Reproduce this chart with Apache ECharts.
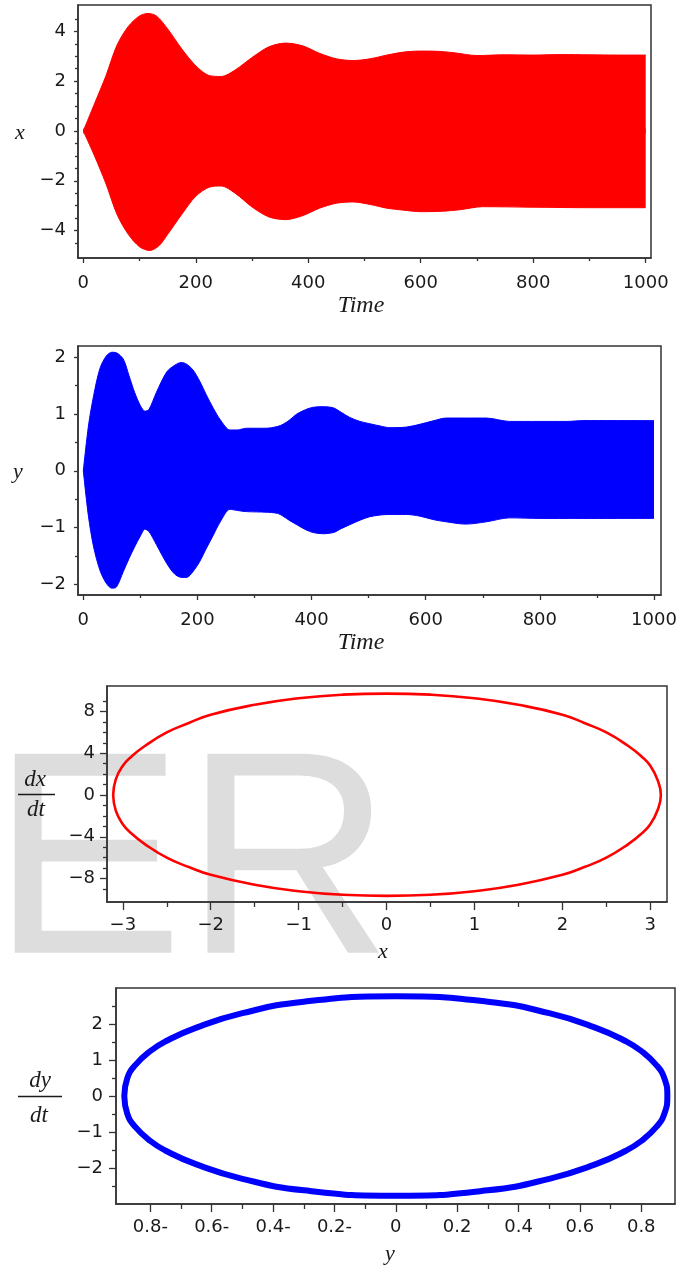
<!DOCTYPE html>
<html>
<head>
<meta charset="utf-8">
<script src="https://cdn.jsdelivr.net/npm/echarts@6/dist/echarts.min.js"></script>
<style>
html,body{margin:0;padding:0;background:#fff;}
#chart{width:688px;height:1268px;}
</style>
</head>
<body>
<div id="chart"></div>
<script>
// ---------- Panel 1: x(t) envelope ----------
var xTime  = [0, 20, 40, 60, 80, 100, 115, 130, 150, 175, 200, 225, 245, 270, 300, 330, 360, 390, 420, 450, 480, 510, 540, 570, 600, 630, 660, 700, 750, 800, 850, 900, 950, 1000];
var xUpper = [0, 1.1, 2.2, 3.45, 4.2, 4.62, 4.72, 4.62, 4.1, 3.3, 2.62, 2.22, 2.19, 2.45, 2.95, 3.38, 3.53, 3.42, 3.12, 2.9, 2.83, 2.9, 3.05, 3.17, 3.21, 3.2, 3.14, 3.03, 3.06, 3.05, 3.07, 3.06, 3.05, 3.05];
var xLowTime = [0, 20, 40, 60, 80, 100, 118, 135, 150, 175, 200, 225, 245, 270, 300, 330, 360, 390, 420, 450, 480, 510, 540, 570, 600, 640, 670, 710, 800, 900, 1000];
var xLower = [0, -1.0, -2.1, -3.35, -4.15, -4.65, -4.8, -4.6, -4.15, -3.35, -2.62, -2.25, -2.21, -2.5, -3.05, -3.45, -3.56, -3.4, -3.1, -2.9, -2.85, -2.95, -3.1, -3.18, -3.24, -3.22, -3.16, -3.04, -3.06, -3.08, -3.08];

// ---------- Panel 2: y(t) envelope ----------
var yTime  = [0, 9, 18, 29, 40, 50, 58, 70, 80, 90, 100, 108, 115, 128, 146, 160, 172, 181, 192, 204, 215, 228, 240, 257, 270, 286, 320, 340, 350, 362, 374, 390, 403, 420, 438, 452, 467, 485, 502, 520, 537, 566, 590, 613, 636, 670, 706, 747, 800, 846, 876, 930, 1000];
var yUpper = [0, 0.79, 1.32, 1.8, 2.02, 2.09, 2.08, 1.97, 1.68, 1.38, 1.15, 1.05, 1.08, 1.38, 1.74, 1.86, 1.91, 1.88, 1.78, 1.58, 1.35, 1.1, 0.9, 0.72, 0.72, 0.75, 0.75, 0.78, 0.82, 0.9, 1.0, 1.08, 1.12, 1.13, 1.11, 1.03, 0.94, 0.87, 0.83, 0.79, 0.76, 0.77, 0.82, 0.88, 0.93, 0.93, 0.93, 0.87, 0.87, 0.87, 0.885, 0.885, 0.885];
var yLower = [0, -0.8, -1.34, -1.75, -1.98, -2.07, -2.05, -1.78, -1.55, -1.34, -1.15, -1.03, -1.07, -1.3, -1.63, -1.82, -1.88, -1.88, -1.78, -1.6, -1.38, -1.13, -0.9, -0.68, -0.7, -0.72, -0.73, -0.75, -0.8, -0.88, -0.95, -1.04, -1.09, -1.11, -1.09, -1.02, -0.95, -0.87, -0.81, -0.78, -0.77, -0.77, -0.8, -0.86, -0.9, -0.94, -0.9, -0.83, -0.84, -0.84, -0.84, -0.84, -0.84];

// ---------- Panel 3: phase portrait (x, dx/dt) ----------
var phaseX  = [-3.11, -3.08, -3.0, -2.9, -2.75, -2.5, -2.25, -2.0, -1.5, -1.0, -0.5, 0, 0.5, 1.0, 1.5, 2.0, 2.25, 2.5, 2.75, 2.9, 3.0, 3.08, 3.12,
               3.08, 3.0, 2.9, 2.75, 2.5, 2.25, 2.0, 1.5, 1.0, 0.5, 0, -0.5, -1.0, -1.5, -2.0, -2.25, -2.5, -2.75, -2.9, -3.0, -3.08, -3.11];
var phaseDX = [0, 1.5, 2.8, 3.7, 4.7, 6.0, 6.9, 7.7, 8.65, 9.28, 9.62, 9.72, 9.62, 9.28, 8.65, 7.7, 6.9, 6.0, 4.7, 3.7, 2.8, 1.5, 0,
               -1.5, -2.8, -3.7, -4.7, -6.0, -6.9, -7.65, -8.6, -9.22, -9.56, -9.66, -9.56, -9.22, -8.6, -7.65, -6.9, -6.0, -4.7, -3.7, -2.8, -1.5, 0];

// ---------- Panel 4: phase portrait (y, dy/dt) ----------
var phaseY  = [-0.885, -0.875, -0.85, -0.8, -0.75, -0.65, -0.5, -0.3, 0, 0.3, 0.5, 0.65, 0.75, 0.8, 0.85, 0.875, 0.885,
               0.875, 0.85, 0.8, 0.75, 0.65, 0.5, 0.3, 0, -0.3, -0.5, -0.65, -0.75, -0.8, -0.85, -0.875, -0.885];
var phaseDY = [0, 0.5, 0.85, 1.25, 1.52, 1.9, 2.3, 2.62, 2.77, 2.62, 2.3, 1.9, 1.52, 1.25, 0.85, 0.5, 0,
               -0.5, -0.85, -1.25, -1.52, -1.9, -2.3, -2.62, -2.77, -2.62, -2.3, -1.9, -1.52, -1.25, -0.85, -0.5, 0];

// ---------- Tick values & labels ----------
var timeTicks   = [0, 200, 400, 600, 800, 1000];
var timeLabels  = ["0", "200", "400", "600", "800", "1000"];
var timeMinor   = [100, 300, 500, 700, 900];
var p1YTicks    = [-4, -2, 0, 2, 4];
var p1YLabels   = ["\u22124", "\u22122", "0", "2", "4"];
var p1YMinor    = [-4.5, -3.5, -3, -2.5, -1.5, -1, -0.5, 0.5, 1, 1.5, 2.5, 3, 3.5, 4.5];
var p2YTicks    = [-2, -1, 0, 1, 2];
var p2YLabels   = ["\u22122", "\u22121", "0", "1", "2"];
var p2YMinor    = [-1.5, -0.5, 0.5, 1.5];
var p3XTicks    = [-3, -2, -1, 0, 1, 2, 3];
var p3XLabels   = ["\u22123", "\u22122", "\u22121", "0", "1", "2", "3"];
var p3XMinor    = [-2.5, -1.5, -0.5, 0.5, 1.5, 2.5];
var p3YTicks    = [-8, -4, 0, 4, 8];
var p3YLabels   = ["\u22128", "\u22124", "0", "4", "8"];
var p3YMinor    = [-9, -7, -6, -5, -3, -2, -1, 1, 2, 3, 5, 6, 7, 9];
var p4XTicks    = [-0.8, -0.6, -0.4, -0.2, 0, 0.2, 0.4, 0.6, 0.8];
var p4XLabels   = ["0.8-", "0.6-", "0.4-", "0.2-", "0", "0.2", "0.4", "0.6", "0.8"];
var p4XMinor    = [-0.7, -0.5, -0.3, -0.1, 0.1, 0.3, 0.5, 0.7];
var p4YTicks    = [-2, -1, 0, 1, 2];
var p4YLabels   = ["\u22122", "\u22121", "0", "1", "2"];
var p4YMinor    = [-2.5, -1.5, -0.5, 0.5, 1.5, 2.5];

function zip(a, b) { return a.map(function (v, i) { return [v, b[i]]; }); }

var FRAME = '#333333';
var TICKFONT = 'DejaVu Sans';

function labelFor(vals, labels) {
  return function (v) {
    for (var i = 0; i < vals.length; i++) if (Math.abs(vals[i] - v) < 1e-9) return labels[i];
    return '';
  };
}

function makeAxes(dim, gridIndex, min, max, major, labels, minor, majLen, minLen, margin) {
  var pos = dim === 'x' ? 'bottom' : 'left';
  var main = {
    type: 'value', gridIndex: gridIndex, position: pos, min: min, max: max,
    splitLine: { show: false },
    axisLine: { show: true, onZero: false, lineStyle: { color: FRAME, width: 1.5 } },
    axisTick: { show: true, customValues: major, length: majLen, lineStyle: { color: FRAME, width: 1.3 } },
    axisLabel: { show: true, customValues: major, formatter: labelFor(major, labels), margin: margin,
      color: '#1a1a1a', fontFamily: TICKFONT, fontSize: 18, hideOverlap: false,
      showMinLabel: true, showMaxLabel: true }
  };
  var sub = {
    type: 'value', gridIndex: gridIndex, position: pos, min: min, max: max,
    splitLine: { show: false },
    axisLine: { show: false, onZero: false },
    axisTick: { show: true, customValues: minor, length: minLen, lineStyle: { color: FRAME, width: 1.3 } },
    axisLabel: { show: false }
  };
  return [main, sub];
}

var grids = [
  { left: 78,  top: 5,   right: 37, height: 253 },
  { left: 78,  top: 346, right: 27, height: 249 },
  { left: 107, top: 686, right: 21, height: 216 },
  { left: 116, top: 988, right: 13, height: 216 }
].map(function (g) {
  g.show = true; g.borderColor = FRAME; g.borderWidth = 1.5; g.backgroundColor = 'transparent';
  return g;
});

var xAxes = [].concat(
  makeAxes('x', 0, -9.4, 1009.4, timeTicks, timeLabels, timeMinor, 5, 3, 16),
  makeAxes('x', 1, -9.3, 1012.3, timeTicks, timeLabels, timeMinor, 5, 3, 16),
  makeAxes('x', 2, -3.18, 3.19, p3XTicks, p3XLabels, p3XMinor, 8, 5, 14),
  makeAxes('x', 3, -0.912, 0.91, p4XTicks, p4XLabels, p4XMinor, 8, 5, 14)
);
var yAxes = [].concat(
  makeAxes('y', 0, -5.1, 5.06, p1YTicks, p1YLabels, p1YMinor, 4, 3, 12),
  makeAxes('y', 1, -2.19, 2.2, p2YTicks, p2YLabels, p2YMinor, 4, 3, 12),
  makeAxes('y', 2, -10.25, 10.45, p3YTicks, p3YLabels, p3YMinor, 7, 4, 12),
  makeAxes('y', 3, -3, 3, p4YTicks, p4YLabels, p4YMinor, 7, 4, 13)
);

// upper and lower envelopes each fill slightly past zero so the two areas overlap (no seam)
function envelope(axisIdx, data, color, origin) {
  return {
    type: 'line', xAxisIndex: axisIdx * 2, yAxisIndex: axisIdx * 2, data: data,
    showSymbol: false, symbol: 'none', smooth: 0.3, clip: true, silent: true,
    lineStyle: { color: color, width: 1 },
    areaStyle: { color: color, opacity: 1, origin: origin },
    z: 3
  };
}
function loop(axisIdx, data, color, width) {
  return {
    type: 'line', xAxisIndex: axisIdx * 2, yAxisIndex: axisIdx * 2, data: data,
    showSymbol: false, symbol: 'none', smooth: 0.5, clip: true, silent: true,
    lineStyle: { color: color, width: width }, z: 3
  };
}

var series = [
  envelope(0, zip(xTime, xUpper), '#ff0000', -0.1),
  envelope(0, zip(xLowTime, xLower), '#ff0000', 0.1),
  envelope(1, zip(yTime, yUpper), '#0000ff', -0.04),
  envelope(1, zip(yTime, yLower), '#0000ff', 0.04),
  loop(2, zip(phaseX, phaseDX), '#ff0000', 2.6),
  loop(3, zip(phaseY, phaseDY), '#0000ff', 6)
];

var SERIF = '"Liberation Serif", "DejaVu Serif", serif';
function title(txt, x, y, size) {
  return { type: 'text', x: x, y: y, z: 50, silent: true,
    style: { text: txt, fill: '#1a1a1a', font: 'italic ' + (size || 22) + 'px ' + SERIF,
      align: 'center', verticalAlign: 'middle' } };
}
function rule(x1, x2, y) {
  return { type: 'line', z: 50, silent: true, shape: { x1: x1, y1: y, x2: x2, y2: y },
    style: { stroke: '#1a1a1a', lineWidth: 1.3 } };
}

var graphics = [
  { type: 'text', x: -9, y: 873, z: -10, silent: true,
    style: { text: 'ER', fill: '#dddddd', font: '289px "Liberation Sans", Arial, sans-serif',
      align: 'left', verticalAlign: 'middle' } },
  title('x', 20, 133),
  title('Time', 361, 306, 24),
  title('y', 18, 472),
  title('Time', 361, 643, 24),
  title('dx', 35, 780, 23),
  rule(18, 55, 794.5),
  title('dt', 36, 810, 23),
  title('x', 383, 952),
  title('dy', 40, 1081, 23),
  rule(18, 62, 1096.5),
  title('dt', 39, 1116, 23),
  title('y', 390, 1254)
];

var chart = echarts.init(document.getElementById('chart'), null, { renderer: 'canvas' });
chart.setOption({
  backgroundColor: '#ffffff',
  animation: false,
  grid: grids,
  xAxis: xAxes,
  yAxis: yAxes,
  series: series,
  graphic: { elements: graphics }
});
</script>
</body>
</html>
